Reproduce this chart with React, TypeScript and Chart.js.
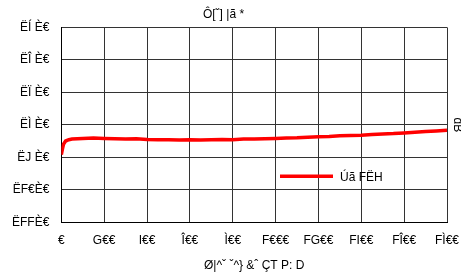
import React, { useEffect, useRef } from "react";
import { Chart, registerables } from "chart.js";

Chart.register(...registerables);

const titleText = "Ô[ˇ] |ã *";
const xAxisTitle = "Ø|^ˇ ˇ^} &ˆ ÇT P: D";
const rightAxisTitle = "dB";
const seriesName = "Úã FËH";

const xTickValues = [0, 200, 400, 600, 800, 1000, 1200, 1400, 1600, 1800];
const xTickLabels = ["€", "G€€", "I€€", "Î€€", "Ì€€", "F€€€", "FG€€", "FI€€", "FÎ€€", "FÌ€€"];
const yTickValues = [-11, -10, -9, -8, -7, -6, -5];
const yTickLabels = ["ËFFÈ€", "ËF€È€", "ËJ È€", "ËÌ È€", "ËÏ È€", "ËÎ È€", "ËÍ È€"];

const xValues = [
  0, 5, 10, 20, 35, 50, 75, 100, 150, 200, 250, 300, 350, 400, 450, 500, 550, 600,
  650, 700, 750, 800, 850, 900, 950, 1000, 1050, 1100, 1150, 1200, 1250, 1300, 1350,
  1400, 1450, 1500, 1550, 1600, 1650, 1700, 1750, 1800,
];
const yValues = [
  -8.92, -8.75, -8.6, -8.5, -8.46, -8.44, -8.43, -8.42, -8.41, -8.42, -8.43, -8.44,
  -8.43, -8.45, -8.46, -8.46, -8.47, -8.46, -8.47, -8.46, -8.45, -8.46, -8.44, -8.44,
  -8.43, -8.42, -8.41, -8.4, -8.38, -8.37, -8.36, -8.34, -8.33, -8.32, -8.3, -8.28,
  -8.27, -8.25, -8.23, -8.21, -8.19, -8.17,
];

const FONT = "'Liberation Sans', Arial, sans-serif";

const extrasPlugin = {
  id: "extras",
  afterDraw(chart: any) {
    const { ctx, chartArea } = chart;
    const y = chartArea.bottom - 46;
    const x0 = chartArea.right - 167;
    const x1 = chartArea.right - 114;
    ctx.save();
    ctx.strokeStyle = "#ff0000";
    ctx.lineWidth = 3.5;
    ctx.beginPath();
    ctx.moveTo(x0, y);
    ctx.lineTo(x1, y);
    ctx.stroke();
    ctx.fillStyle = "#000";
    ctx.font = `12px ${FONT}`;
    ctx.textBaseline = "middle";
    ctx.textAlign = "left";
    ctx.fillText(seriesName, x1 + 7, y + 1);
    // right-side rotated axis title
    ctx.translate(chartArea.right + 10, (chartArea.top + chartArea.bottom) / 2);
    ctx.rotate(Math.PI / 2);
    ctx.textAlign = "center";
    ctx.fillText(rightAxisTitle, 0, 0);
    ctx.restore();
  },
};

export default function App() {
  const ref = useRef<HTMLCanvasElement>(null);
  useEffect(() => {
    document.body.style.margin = "0";
    const data = xValues.map((x, i) => ({ x, y: yValues[i] }));
    const chart = new Chart(ref.current!, {
      type: "line",
      data: {
        datasets: [
          {
            label: seriesName,
            data,
            borderColor: "#ff0000",
            borderWidth: 3.5,
            pointRadius: 0,
            tension: 0,
            fill: false,
          },
        ],
      },
      options: {
        animation: false,
        responsive: false,
        layout: { padding: { left: 0, right: 14, top: 0, bottom: 3 } },
        plugins: {
          legend: { display: false },
          tooltip: { enabled: false },
          title: {
            display: true,
            text: titleText,
            color: "#000",
            font: { family: FONT, size: 12, weight: "normal" },
            padding: { top: 7, bottom: 6 },
          },
        },
        scales: {
          x: {
            type: "linear",
            min: 0,
            max: 1800,
            afterBuildTicks: (axis: any) => {
              axis.ticks = xTickValues.map((v) => ({ value: v }));
            },
            afterFit: (axis: any) => {
              axis.paddingRight = 0;
            },
            ticks: {
              color: "#000",
              font: { family: FONT, size: 12 },
              padding: 11,
              maxRotation: 0,
              autoSkip: false,
              callback: (v: any) => xTickLabels[xTickValues.indexOf(Number(v))] ?? "",
            },
            grid: { color: "#333", lineWidth: 1, drawTicks: false },
            border: { color: "#000", width: 1 },
            title: {
              display: true,
              text: xAxisTitle,
              color: "#000",
              font: { family: FONT, size: 12 },
              padding: { top: 0, bottom: 0 },
            },
          },
          y: {
            type: "linear",
            min: -11,
            max: -5,
            afterBuildTicks: (axis: any) => {
              axis.ticks = yTickValues.map((v) => ({ value: v }));
            },
            ticks: {
              color: "#000",
              font: { family: FONT, size: 12 },
              padding: 12,
              autoSkip: false,
              callback: (v: any) => yTickLabels[yTickValues.indexOf(Number(v))] ?? "",
            },
            grid: { color: "#333", lineWidth: 1, drawTicks: false },
            border: { color: "#000", width: 1 },
          },
        },
      },
      plugins: [extrasPlugin],
    });
    return () => chart.destroy();
  }, []);
  return (
    <div style={{ width: 461, height: 276 }}>
      <canvas ref={ref} width={461} height={276} style={{ display: "block" }} />
    </div>
  );
}
